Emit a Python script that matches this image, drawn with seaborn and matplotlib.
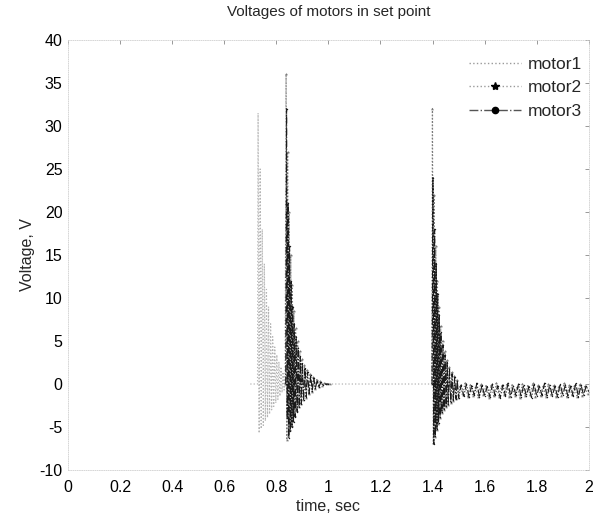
import matplotlib
matplotlib.use("Agg")
import matplotlib.pyplot as plt
from matplotlib.lines import Line2D
import seaborn as sns
import pandas as pd

# ---------------- data ----------------
motor1_event1 = [(0.700, 0), (0.728, 0), (0.730, 31.5), (0.734, -5.7), (0.738, 25), (0.742, -5.2),
                 (0.746, 18), (0.750, -4.8), (0.754, 14), (0.758, -4.3), (0.762, 11), (0.766, -3.9),
                 (0.770, 9), (0.774, -3.5), (0.778, 7), (0.782, -3.0), (0.786, 5.5), (0.790, -2.6),
                 (0.794, 4.3), (0.798, -2.2), (0.802, 3.4), (0.806, -1.8), (0.810, 2.6), (0.814, -1.4),
                 (0.818, 2.0), (0.822, -1.0), (0.826, 1.4), (0.830, -0.7), (0.834, 0.9), (0.838, -0.4),
                 (0.842, 0.5), (0.846, -0.2), (0.850, 0.2), (0.860, 0), (1.398, 0)]
motor1_event2 = [(1.398, 0), (1.400, 10), (1.404, -3.0), (1.408, 6), (1.412, -2.5), (1.416, 3.5),
                 (1.420, -2.0), (1.425, 2.0), (1.430, -1.6), (1.436, 1.0), (1.442, -1.3), (1.450, 0.3),
                 (1.460, -1.0), (1.470, -0.2), (1.480, -0.9), (1.490, -0.4), (1.500, -0.7), (2.000, -0.7)]

motor2_event1 = [(0.834, 0), (0.8375, 36), (0.8405, -6.5), (0.8435, 27), (0.8465, -6.0), (0.8495, 20),
                 (0.8525, -5.4), (0.8555, 15), (0.8585, -4.9), (0.8615, 11.5), (0.8645, -4.3), (0.8675, 8.5),
                 (0.8705, -3.7), (0.874, 6.5), (0.878, -3.1), (0.882, 5.0), (0.886, -2.7), (0.890, 3.8),
                 (0.894, -2.3), (0.898, 2.9), (0.903, -1.9), (0.908, 2.2), (0.913, -1.6), (0.918, 1.6),
                 (0.924, -1.2), (0.930, 1.2), (0.936, -0.9), (0.942, 0.8), (0.948, -0.6), (0.955, 0.5),
                 (0.962, -0.4), (0.969, 0.3), (0.976, -0.2), (0.985, 0.1), (0.995, 0), (1.005, 0)]
motor2_event2 = [(1.397, 0), (1.3995, 32), (1.403, -6.8), (1.4065, 22), (1.4095, -6.2), (1.4125, 16),
                 (1.4155, -5.4), (1.4185, 12), (1.4215, -4.6), (1.4245, 9), (1.4275, -3.9), (1.431, 6.8),
                 (1.435, -3.4), (1.439, 5.0), (1.443, -3.0), (1.447, 3.8), (1.451, -2.7), (1.455, 2.8),
                 (1.459, -2.4), (1.464, 2.0), (1.469, -2.2), (1.474, 1.4), (1.479, -2.0), (1.484, 0.9),
                 (1.489, -1.8), (1.494, 0.5), (1.499, -1.6),
                 (1.505, -0.2), (1.515, -1.3), (1.525, 0.1), (1.535, -1.5), (1.545, -0.1), (1.555, -1.4),
                 (1.565, -0.3), (1.575, -1.5), (1.585, 0.0), (1.595, -1.3), (1.605, -0.2), (1.615, -1.6),
                 (1.625, -0.1), (1.635, -1.4), (1.645, 0.1), (1.655, -1.5), (1.665, -0.2), (1.675, -1.3),
                 (1.685, 0.0), (1.695, -1.5), (1.705, -0.1), (1.715, -1.4), (1.725, -0.3), (1.735, -1.6),
                 (1.745, 0.0), (1.755, -1.4), (1.765, -0.2), (1.775, -1.3), (1.785, 0.1), (1.795, -1.5),
                 (1.805, -0.1), (1.815, -1.4), (1.825, -0.2), (1.835, -1.5), (1.845, 0.0), (1.855, -1.3),
                 (1.865, -0.1), (1.875, -1.5), (1.885, -0.2), (1.895, -1.4), (1.905, 0.1), (1.915, -1.5),
                 (1.925, -0.1), (1.935, -1.3), (1.945, -0.2), (1.955, -1.5), (1.965, 0.0), (1.975, -1.4),
                 (1.985, -0.2), (1.995, -1.2)]

motor3_event1 = [(0.836, 0), (0.8395, 32), (0.842, -4.0), (0.845, 21), (0.848, -6.3), (0.851, 16),
                 (0.854, -5.5), (0.857, 12), (0.860, -5.0), (0.863, 9), (0.866, -4.4), (0.869, 7),
                 (0.872, -3.8), (0.876, 5.5), (0.880, -3.2), (0.884, 4.2), (0.888, -2.7), (0.892, 3.2),
                 (0.896, -2.3), (0.900, 2.5), (0.905, -1.9), (0.910, 1.9), (0.915, -1.5), (0.920, 1.4),
                 (0.926, -1.1), (0.932, 1.0), (0.938, -0.8), (0.944, 0.7), (0.950, -0.5), (0.957, 0.4),
                 (0.964, -0.3), (0.971, 0.2), (0.980, -0.1), (0.990, 0), (1.000, 0)]
motor3_event2 = [(1.398, 0), (1.4015, 24), (1.405, -7.0), (1.408, 18), (1.411, -6.0), (1.414, 14),
                 (1.417, -5.2), (1.420, 10.5), (1.423, -4.5), (1.426, 8), (1.429, -3.8), (1.432, 6),
                 (1.436, -3.3), (1.440, 4.5), (1.444, -2.9), (1.448, 3.4), (1.452, -2.6), (1.456, 2.5),
                 (1.460, -2.3), (1.465, 1.8), (1.470, -2.1), (1.475, 1.2), (1.480, -1.9), (1.485, 0.8),
                 (1.490, -1.7), (1.495, 0.4), (1.500, -1.6),
                 (1.51, -0.1), (1.52, -1.4), (1.53, 0.0), (1.54, -1.5), (1.55, -0.2), (1.56, -1.3),
                 (1.57, 0.1), (1.58, -1.5), (1.59, -0.1), (1.60, -1.4), (1.61, -0.3), (1.62, -1.5),
                 (1.63, 0.0), (1.64, -1.3), (1.65, -0.2), (1.66, -1.6), (1.67, -0.1), (1.68, -1.4),
                 (1.69, 0.1), (1.70, -1.5), (1.71, -0.2), (1.72, -1.3), (1.73, 0.0), (1.74, -1.5),
                 (1.75, -0.1), (1.76, -1.4), (1.77, -0.3), (1.78, -1.6), (1.79, 0.0), (1.80, -1.4),
                 (1.81, -0.2), (1.82, -1.3), (1.83, 0.1), (1.84, -1.5), (1.85, -0.1), (1.86, -1.4),
                 (1.87, -0.2), (1.88, -1.5), (1.89, 0.0), (1.90, -1.3), (1.91, -0.1), (1.92, -1.5),
                 (1.93, -0.2), (1.94, -1.4), (1.95, 0.1), (1.96, -1.5), (1.97, -0.1), (1.98, -1.3),
                 (1.99, -0.2), (2.00, -0.9)]

motor_names = ["motor1", "motor2", "motor3"]
x_ticks = [0, 0.2, 0.4, 0.6, 0.8, 1, 1.2, 1.4, 1.6, 1.8, 2]
x_tick_labels = ["0", "0.2", "0.4", "0.6", "0.8", "1", "1.2", "1.4", "1.6", "1.8", "2"]
y_ticks = [-10, -5, 0, 5, 10, 15, 20, 25, 30, 35, 40]

segments = {
    "motor1": [motor1_event1, motor1_event2],
    "motor2": [motor2_event1, motor2_event2],
    "motor3": [motor3_event1, motor3_event2],
}

rows = []
for name, segs in segments.items():
    for k, seg in enumerate(segs):
        for t, v in seg:
            rows.append({"motor": name, "seg": k, "time": t, "voltage": v})
df = pd.DataFrame(rows)

styles = {
    "motor1": dict(color="#b4b4b4", linestyle=":", marker=None, lw=0.9, ms=0),
    "motor2": dict(color="#7a7a7a", linestyle=":", marker="*", lw=0.9, ms=2.5),
    "motor3": dict(color="#1a1a1a", linestyle="-.", marker=".", lw=0.8, ms=2.0),
}

# ---------------- figure ----------------
sns.set_theme(style="white")
plt.rcParams["font.family"] = ["Liberation Sans", "DejaVu Sans"]
plt.rcParams["axes.unicode_minus"] = False

fig = plt.figure(figsize=(5.99, 5.16), dpi=100)
ax = fig.add_axes([0.1135, 0.0891, 0.8695, 0.8334])

for name in motor_names:
    st = styles[name]
    sns.lineplot(data=df[df["motor"] == name], x="time", y="voltage", units="seg",
                 estimator=None, sort=False, ax=ax, color=st["color"],
                 linestyle=st["linestyle"], marker=st["marker"], linewidth=st["lw"],
                 markersize=st["ms"], markeredgewidth=0, legend=False)

ax.set_xlim(0, 2)
ax.set_ylim(-10, 40)
ax.set_xticks(x_ticks)
ax.set_xticklabels(x_tick_labels)
ax.set_yticks(y_ticks)
ax.tick_params(direction="in", length=3, width=0.6, color="#888888",
               labelsize=11.5, labelcolor="black", top=True, right=True)
ax.tick_params(axis="x", pad=7)
ax.tick_params(axis="y", pad=4)
for sp in ax.spines.values():
    sp.set_color("#d0d0d0")
    sp.set_linewidth(0.6)
    sp.set_linestyle(":")

ax.set_title("Voltages of motors in set point", fontsize=11, pad=17)
ax.set_xlabel("time, sec", fontsize=11.5, labelpad=3)
ax.set_ylabel("Voltage, V", fontsize=11.5, labelpad=3)

handles = [
    Line2D([0, 0.5, 1], [0, 0, 0], color="#9a9a9a", linestyle=":", lw=1.0),
    Line2D([0, 0.5, 1], [0, 0, 0], color="#9a9a9a", linestyle=":", lw=1.0, marker="*", ms=6,
           markerfacecolor="black", markeredgecolor="black", markevery=[2]),
    Line2D([0, 0.5, 1], [0, 0, 0], color="#555555", linestyle="-.", lw=1.0, marker=".", ms=9,
           markerfacecolor="black", markeredgecolor="black", markevery=[2]),
]
leg = ax.legend(handles, motor_names, loc="upper right", fontsize=12.5,
                frameon=False, handlelength=3.0, handletextpad=0.4,
                bbox_to_anchor=(1.017, 0.998), labelspacing=0.5)

fig.savefig("out.png", dpi=100)
